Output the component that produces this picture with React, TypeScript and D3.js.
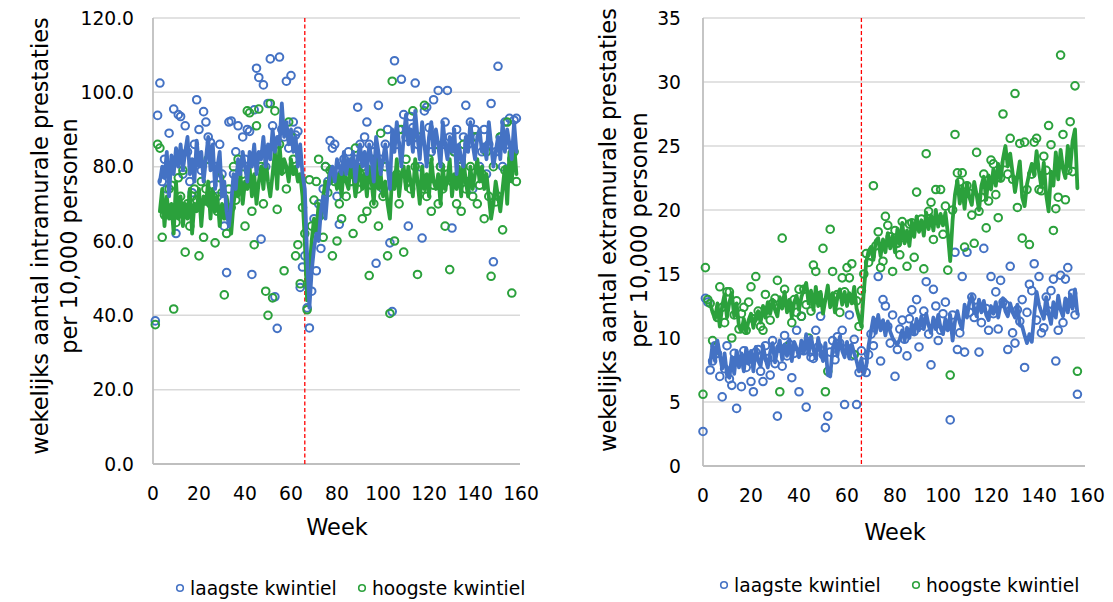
import React from 'react';
import * as d3 from 'd3';

// ---------- DATA ----------
const xTicks = [0, 20, 40, 60, 80, 100, 120, 140, 160];
const leftYTicks = [0, 20, 40, 60, 80, 100, 120];
const rightYTicks = [0, 5, 10, 15, 20, 25, 30, 35];
const interventionWeek = 66;
const seriesNames = ['laagste kwintiel', 'hoogste kwintiel'];

// Left chart (intramural), dots from week 1, lines from week 3
const leftDotStart = 1;
const leftLineStart = 3;
const leftBlueDots = [
  38.5, 93.8, 102.5, 76, 82, 74, 89, 80, 95.5, 62,
  94, 93.5, 78, 91, 84, 76, 73, 86, 98, 90,
  79, 94.8, 92, 88, 86.5, 75, 80, 72, 86, 78,
  64, 51.5, 92, 92.3, 78, 84, 91, 75, 88, 82,
  90, 89.5, 51, 95.3, 106.5, 104, 60.5, 102, 80, 97,
  109, 91, 45, 36.5, 109.5, 90, 88, 103, 85, 104.5,
  92, 88.5, 89.5, 47.5, 53, 56, 42, 36.6, 46.5, 66,
  52, 70, 58, 74, 80, 76, 87, 85, 86, 72,
  64.5, 78, 82, 80, 84, 76, 78, 82, 96, 86,
  80, 88, 92, 86, 78, 84, 54, 96.5, 82, 74,
  86, 90, 59.5, 41, 108.5, 86, 90, 103.5, 94, 88,
  64, 93.5, 90.5, 102.5, 86, 80, 60.8, 95, 96, 90.5,
  84, 98, 86, 100.5, 80, 86, 92, 100.5, 88, 63.5,
  84, 90, 76, 82, 88, 96.5, 86, 92, 74, 90,
  88, 80, 84, 90, 78, 86, 97, 54.4, 84, 107,
  88, 80, 92, 86, 93, 82, 92.5, 93,
];
const leftGreenDots = [
  37.5, 86, 85, 61, 67, 69, 74, 75, 41.7, 65,
  77, 72, 79, 57, 70, 64, 72, 74, 71, 56,
  76, 61, 74, 82, 70, 72, 59.5, 68, 77, 73,
  45.5, 62, 74, 69, 80, 71, 82, 74, 78, 64,
  95, 94.5, 68, 59, 91, 95.5, 80, 70, 46.5, 40,
  97, 44.7, 95, 68.5, 86, 79, 52, 74, 92, 88,
  82, 56, 59, 48.5, 69, 62, 41.5, 76.5, 64, 71,
  76, 82, 67, 61, 80, 73, 79, 56, 76, 60,
  70, 66, 79, 72, 81, 76, 62, 85, 74, 78,
  66, 80, 68, 50.7, 75, 70, 82, 64, 89, 72,
  80, 56, 40.5, 103, 60, 78, 70, 90, 57, 82,
  76, 74, 95, 80, 51, 88, 74, 96.5, 72, 82,
  68, 75, 86, 70, 80, 74, 64, 78, 52.3, 76,
  84, 70, 82, 68, 86, 74, 76, 80, 72, 88,
  70, 75, 78, 66, 84, 72, 50.5, 80, 70.5, 72,
  88, 63, 79, 92, 78, 46, 84, 76,
];
const leftBlueLine = [
  76, 80, 77, 84, 72, 83, 78, 85,
  80, 86, 79, 84, 88, 78, 82, 76, 87, 80,
  84, 76, 82, 88, 79, 86, 74, 80, 84, 72,
  76, 68, 64, 70, 78, 74, 82, 78, 84, 80,
  76, 84, 80, 86, 78, 84, 82, 88, 80, 86,
  82, 90, 84, 88, 86, 97, 88, 92, 86, 90,
  84, 88, 80, 86, 78, 74, 56, 42, 52, 58,
  62, 60, 68, 72, 66, 74, 78, 80, 76, 82,
  80, 78, 84, 78, 82, 80, 84, 76, 82, 86,
  80, 84, 78, 86, 82, 76, 88, 84, 78, 82,
  86, 80, 74, 90, 84, 92, 86, 80, 88, 94,
  86, 90, 84, 95, 88, 82, 92, 86, 80, 88,
  92, 84, 90, 86, 80, 92, 86, 82, 88, 84,
  90, 78, 86, 82, 80, 88, 84, 92, 86, 82,
  88, 90, 84, 86, 82, 92, 86, 80, 84, 88,
  82, 92, 84, 90, 86, 82, 92, 84,
];
const leftGreenLine = [
  68, 74, 64, 72, 66, 70, 62, 76,
  66, 72, 64, 70, 66, 74, 62, 70, 68, 74,
  64, 72, 70, 76, 66, 74, 68, 72, 64, 70,
  66, 72, 68, 62, 70, 74, 72, 78, 70, 76,
  74, 80, 72, 78, 70, 76, 80, 74, 82, 76,
  72, 78, 84, 74, 86, 78, 82, 80, 76, 82,
  78, 80, 76, 78, 72, 60, 44, 52, 60, 66,
  62, 70, 66, 72, 76, 74, 80, 76, 78, 74,
  78, 72, 80, 76, 74, 82, 78, 72, 76, 80,
  74, 78, 72, 80, 76, 70, 82, 74, 78, 72,
  76, 70, 66, 78, 74, 82, 72, 78, 80, 74,
  80, 76, 72, 82, 76, 70, 80, 74, 78, 72,
  82, 76, 74, 78, 70, 80, 74, 76, 82, 72,
  78, 74, 80, 72, 82, 76, 72, 80, 74, 78,
  82, 76, 80, 74, 78, 72, 66, 70, 76, 72,
  68, 74, 80, 70, 84, 76, 86, 78,
];

// Right chart (extramural), dots from week 0, lines from week 3
const rightDotStart = 0;
const rightLineStart = 3;
const rightBlueDots = [
  2.7, 13.1, 12.8, 7.5, 8.2, 9.4, 8.8, 7.0, 5.4, 7.6,
  9.4, 6.8, 6.3, 8.8, 4.5, 8.1, 6.2, 9.0, 7.7, 8.6,
  6.6, 5.8, 8.9, 9.1, 7.4, 6.6, 9.4, 8.4, 7.1, 9.8,
  8.0, 3.9, 9.2, 7.8, 10.2, 8.6, 9.5, 6.9, 8.8, 10.6,
  5.8, 11.7, 9.0, 4.6, 9.7, 8.5, 8.4, 10.6, 9.3, 11.7,
  8.7, 3.0, 3.9, 8.9, 9.8, 8.3, 10.1, 9.6, 10.6, 4.8,
  9.2, 11.8, 8.6, 9.9, 4.8, 7.3, 9.0, 8.1, 7.3, 8.7,
  10.3, 9.4, 11.2, 14.8, 8.2, 13.0, 12.5, 10.9, 9.6, 11.8,
  7.0, 9.1, 10.7, 11.4, 9.9, 8.6, 11.5, 12.2, 10.5, 13.0,
  9.3, 11.0, 12.1, 14.4, 10.3, 7.9, 13.8, 12.5, 9.8, 10.6,
  11.9, 12.8, 10.9, 3.6, 11.8, 16.7, 9.1, 10.4, 14.8, 8.9,
  16.7, 12.0, 13.2, 11.6, 12.4, 8.9, 11.2, 17.0, 12.3, 10.6,
  14.8, 11.9, 13.6, 10.7, 14.5, 12.8, 12.6, 9.1, 15.6, 10.4,
  9.6, 12.2, 11.3, 13.0, 7.7, 12.0, 14.2, 13.7, 15.8, 11.4,
  14.8, 10.4, 10.8, 13.2, 12.1, 13.7, 14.6, 8.2, 10.6, 14.9,
  11.2, 14.6, 15.5, 12.8, 13.5, 11.8, 5.6,
];
const rightGreenDots = [
  5.6, 15.5, 13.0, 12.7, 9.8, 9.0, 11.6, 14.0, 12.4, 11.2,
  13.6, 13.6, 10.0, 11.8, 12.9, 10.7, 11.9, 12.4, 10.6, 12.8,
  14.0, 11.5, 14.8, 12.1, 10.9, 10.6, 13.4, 12.2, 11.4, 12.7,
  13.1, 14.5, 5.8, 17.8, 13.8, 9.3, 12.5, 11.2, 13.0, 12.0,
  13.8, 11.7, 13.8, 12.6, 10.0, 12.1, 15.7, 15.2, 13.3, 12.8,
  17.0, 5.8, 7.4, 18.5, 15.2, 13.2, 13.4, 12.0, 14.7, 13.6,
  15.5, 14.7, 15.8, 8.7, 12.9, 10.9, 13.7, 15.0, 16.6, 15.9,
  16.4, 21.9, 17.2, 18.3, 15.5, 16.0, 19.5, 18.8, 17.9, 15.2,
  18.4, 17.4, 16.5, 19.1, 17.8, 15.6, 18.9, 19.0, 16.3, 21.4,
  18.7, 19.3, 15.4, 24.4, 19.9, 20.6, 17.7, 21.6, 19.2, 21.6,
  18.1, 20.3, 15.3, 7.1, 20.0, 25.9, 22.9, 22.2, 22.9, 17.1,
  21.9, 21.3, 19.6, 17.4, 24.5, 19.9, 21.0, 22.8, 18.6, 20.7,
  23.9, 23.6, 21.2, 19.4, 22.5, 27.5, 23.7, 22.8, 25.6, 22.4,
  29.1, 20.2, 25.2, 17.8, 25.3, 21.6, 17.3, 22.8, 25.3, 25.6,
  21.6, 21.5, 24.2, 23.1, 26.6, 25.1, 18.4, 20.1, 21.0, 32.1,
  25.9, 20.8, 23.1, 26.9, 23.0, 29.7, 7.4,
];
const rightBlueLine = [
  8.0, 9.5, 8.2, 9.8, 8.7, 7.6, 8.8, 7.1,
  6.9, 8.5, 7.2, 9.0, 7.7, 8.8, 7.4, 9.2, 8.0, 9.0,
  7.4, 9.3, 8.2, 7.8, 9.4, 8.4, 7.7, 8.9, 9.6, 8.1,
  9.1, 9.8, 8.3, 9.5, 8.6, 9.9, 8.2, 9.7, 9.2, 8.5,
  9.8, 8.8, 10.3, 8.7, 10.1, 9.1, 8.4, 10.0, 9.0, 8.2,
  9.6, 7.1, 7.0, 9.2, 9.8, 8.6, 10.1, 9.0, 8.5, 9.7,
  8.4, 9.5, 8.8, 8.2, 7.4, 8.4, 7.2, 7.8, 9.4, 10.5,
  11.6, 10.4, 11.8, 10.6, 11.4, 10.2, 11.3, 10.5, 10.0, 9.7,
  9.5, 9.9, 10.6, 9.8, 10.8, 10.0, 11.1, 10.3, 11.5, 10.6,
  11.7, 10.7, 11.9, 11.0, 10.4, 11.6, 10.7, 11.8, 10.8, 10.3,
  11.5, 10.6, 11.8, 9.8, 11.3, 12.1, 11.2, 10.7, 12.6, 11.6,
  12.8, 13.3, 12.3, 11.7, 13.0, 12.0, 12.9, 11.8, 11.4, 12.5,
  11.9, 12.8, 11.6, 12.6, 13.1, 12.1, 11.7, 12.7, 12.0, 11.6,
  12.6, 11.0, 10.9, 10.2, 9.6, 10.3, 9.7, 11.8, 13.6, 12.6,
  12.0, 11.5, 13.2, 11.9, 11.1, 12.8, 11.6, 13.3, 12.2, 11.7,
  13.1, 12.0, 13.4, 12.3, 13.8, 11.9,
];
const rightGreenLine = [
  12.7, 12.0, 11.5, 12.7, 10.9, 12.5, 13.4, 11.6,
  12.8, 13.5, 11.7, 12.7, 10.9, 10.5, 11.5, 10.4, 11.4, 11.9,
  10.8, 11.7, 12.1, 11.2, 12.5, 11.6, 12.8, 11.9, 13.0, 12.2,
  11.7, 13.2, 12.3, 13.6, 12.0, 13.0, 11.6, 12.8, 13.3, 12.2,
  13.2, 13.8, 14.3, 12.7, 13.7, 12.2, 14.0, 12.5, 13.6, 11.9,
  13.0, 14.1, 12.4, 13.5, 12.0, 13.2, 13.8, 12.6, 13.6, 12.5,
  13.5, 12.7, 14.0, 12.3, 11.6, 10.9, 13.6, 15.9, 16.8, 17.1,
  16.1, 17.6, 17.8, 16.4, 17.7, 16.7, 18.2, 17.0, 18.0, 16.7,
  18.5, 17.3, 19.0, 17.4, 18.4, 17.2, 19.1, 17.9, 19.5, 18.3,
  19.2, 18.0, 19.8, 18.5, 19.6, 18.4, 20.0, 18.7, 19.7, 18.8,
  19.8, 18.2, 16.0, 19.2, 21.2, 22.3, 20.5, 21.8, 20.1, 22.1,
  21.0, 20.4, 22.2, 21.2, 20.0, 21.9, 22.6, 20.8, 22.7, 21.6,
  23.2, 21.9, 23.6, 22.3, 24.0, 25.0, 23.4, 24.4, 22.9, 21.4,
  22.6, 23.8, 21.0, 20.3, 22.0, 22.9, 23.6, 22.7, 24.6, 23.0,
  21.8, 23.7, 21.2, 19.9, 23.0, 21.9, 24.5, 22.4, 24.7, 23.2,
  22.5, 25.0, 23.3, 25.4, 26.3, 21.7,
];

// ---------- STYLE ----------
const BLUE = '#4472C4';
const GREEN = '#2BA13C';
const FONT = '"DejaVu Sans", Verdana, sans-serif';
const GRID = '#D9D9D9';
const AXIS = '#BFBFBF';

type PanelProps = {
  left: number; right: number; top: number; bottom: number; gridRight: number;
  yMax: number; yTicks: number[]; yFmt: (v: number) => string;
  blueDots: number[]; greenDots: number[]; dotStart: number;
  blueLine: number[]; greenLine: number[]; lineStart: number;
  yTitle: string[]; titleX: number[]; titleY: number;
  yLabelX: number; xLabelY: number; weekX: number; weekY: number;
  legendY: number; legendX: number[];
};

function Panel(p: PanelProps) {
  const x = d3.scaleLinear().domain([0, 160]).range([p.left, p.right]);
  const y = d3.scaleLinear().domain([0, p.yMax]).range([p.bottom, p.top]);
  const lineGen = d3.line<number>().x((_, i) => x(p.lineStart + i)).y((d) => y(d));
  const dots = (arr: number[], color: string, key: string) =>
    arr.map((v, i) => (
      <circle key={key + i} cx={x(p.dotStart + i)} cy={y(v)} r={3.8}
        fill="none" stroke={color} strokeWidth={2} />
    ));
  return (
    <g fontFamily={FONT}>
      {p.yTicks.filter((t) => t > 0).map((t) => (
        <line key={'g' + t} x1={p.left} x2={p.gridRight} y1={y(t)} y2={y(t)}
          stroke={GRID} strokeWidth={1.5} />
      ))}
      <line x1={p.left} x2={p.left} y1={p.top} y2={p.bottom} stroke={AXIS} strokeWidth={1.8} />
      <line x1={p.left} x2={p.gridRight} y1={p.bottom} y2={p.bottom} stroke={AXIS} strokeWidth={1.8} />
      {p.yTicks.map((t) => (
        <text key={'yl' + t} x={p.yLabelX} y={y(t)} dy="0.36em" textAnchor="end"
          fontSize={18.7} fill="#000">{p.yFmt(t)}</text>
      ))}
      {xTicks.map((t) => (
        <text key={'xl' + t} x={x(t)} y={p.xLabelY} textAnchor="middle"
          fontSize={18.7} fill="#000">{t}</text>
      ))}
      <line x1={x(interventionWeek)} x2={x(interventionWeek)} y1={p.top} y2={p.bottom}
        stroke="#FF0000" strokeWidth={1.3} strokeDasharray="4,2.5" />
      {dots(p.blueDots, BLUE, 'b')}
      {dots(p.greenDots, GREEN, 'gr')}
      <path d={lineGen(p.greenLine) || ''} fill="none" stroke={GREEN} strokeWidth={3.8}
        strokeLinejoin="round" strokeLinecap="round" />
      <path d={lineGen(p.blueLine) || ''} fill="none" stroke={BLUE} strokeWidth={3.8}
        strokeLinejoin="round" strokeLinecap="round" />
      {p.yTitle.map((t, i) => (
        <text key={'yt' + i} transform={`translate(${p.titleX[i]},${p.titleY}) rotate(-90)`}
          textAnchor="middle" dy="0.36em" fontSize={22.5} fill="#000">{t}</text>
      ))}
      <text x={p.weekX} y={p.weekY} textAnchor="middle" fontSize={22.5} fill="#000">Week</text>
      {seriesNames.map((n, i) => (
        <g key={'lg' + i}>
          <circle cx={p.legendX[i]} cy={p.legendY} r={3.3} fill="none"
            stroke={i === 0 ? BLUE : GREEN} strokeWidth={1.6} />
          <text x={p.legendX[i] + 10} y={p.legendY} dy="0.36em" fontSize={18.7} fill="#000">{n}</text>
        </g>
      ))}
    </g>
  );
}

export default function App() {
  return (
    <svg width={1113} height={602} style={{ position: 'absolute', left: 0, top: 0, background: '#fff' }}>
      <rect width={1113} height={602} fill="#fff" />
      <Panel
        left={153} right={521} top={18} bottom={464} gridRight={520}
        yMax={120} yTicks={leftYTicks} yFmt={(v) => v.toFixed(1)}
        blueDots={leftBlueDots} greenDots={leftGreenDots} dotStart={leftDotStart}
        blueLine={leftBlueLine} greenLine={leftGreenLine} lineStart={leftLineStart}
        yTitle={['wekelijks aantal intramurale prestaties', 'per 10,000 personen']}
        titleX={[40, 69]} titleY={236}
        yLabelX={134} xLabelY={500} weekX={337} weekY={535}
        legendY={588} legendX={[180, 362]}
      />
      <Panel
        left={703} right={1087} top={18} bottom={466} gridRight={1085}
        yMax={35} yTicks={rightYTicks} yFmt={(v) => String(v)}
        blueDots={rightBlueDots} greenDots={rightGreenDots} dotStart={rightDotStart}
        blueLine={rightBlueLine} greenLine={rightGreenLine} lineStart={rightLineStart}
        yTitle={['wekelijks aantal extramurale prestaties', 'per 10,000 personen']}
        titleX={[608, 639]} titleY={230}
        yLabelX={681} xLabelY={502} weekX={895} weekY={540}
        legendY={585} legendX={[724, 916]}
      />
    </svg>
  );
}
